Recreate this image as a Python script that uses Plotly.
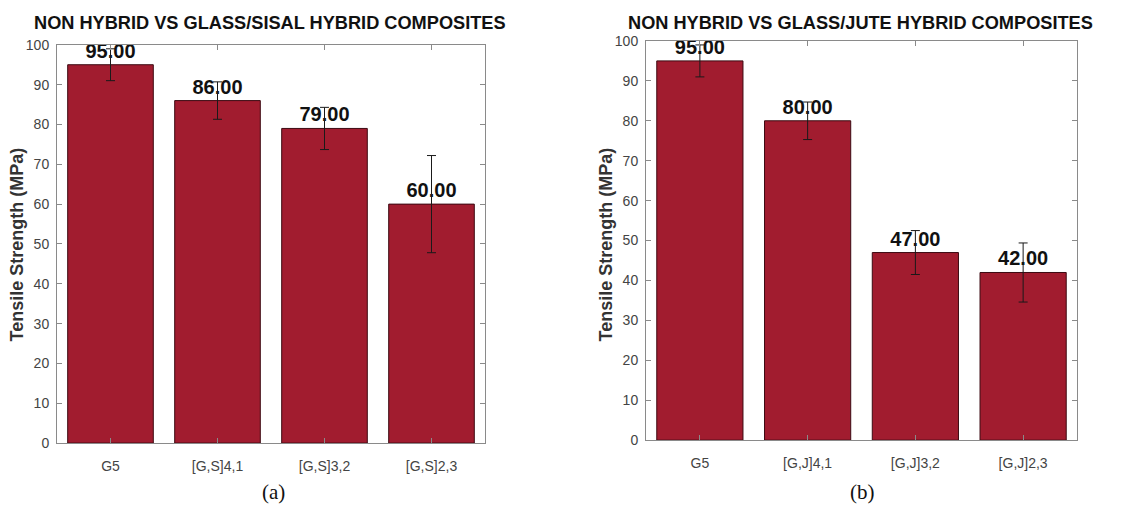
import plotly.graph_objects as go

# Tensile strength of non-hybrid vs hybrid laminates
sisal_labels = ["G5", "[G,S]4,1", "[G,S]3,2", "[G,S]2,3"]
sisal_strength = [95.0, 86.0, 79.0, 60.0]
sisal_error = [4.0, 4.7, 5.3, 12.2]

jute_labels = ["G5", "[G,J]4,1", "[G,J]3,2", "[G,J]2,3"]
jute_strength = [95.0, 80.0, 47.0, 42.0]
jute_error = [4.0, 4.7, 5.5, 7.4]

y_ticks = list(range(0, 101, 10))

BAR_COLOR = "#A11C2F"
EDGE_COLOR = "#3c0a12"
AXIS_COLOR = "#8a8a8a"
TICK_TEXT = "#444444"
FONT = "Liberation Sans, Arial, sans-serif"

W, H = 1147, 516


def bar_trace(labels, values, errors, xa, ya):
    return go.Bar(
        x=labels,
        y=values,
        xaxis=xa,
        yaxis=ya,
        width=0.8,
        marker=dict(color=BAR_COLOR, line=dict(color=EDGE_COLOR, width=1)),
        error_y=dict(type="data", array=errors, visible=True,
                     color="#1a1a1a", thickness=1, width=4.5),
        texttemplate="%{y:.2f}",
        textposition="outside",
        constraintext="none",
        cliponaxis=False,
        textfont=dict(family=FONT, size=20, color="#111111", weight="bold"),
        showlegend=False,
    )


fig = go.Figure()
fig.add_trace(bar_trace(sisal_labels, sisal_strength, sisal_error, "x", "y"))
fig.add_trace(bar_trace(jute_labels, jute_strength, jute_error, "x2", "y2"))

x_common = dict(
    type="category",
    range=[-0.5, 3.5],
    showline=True, linecolor=AXIS_COLOR, linewidth=1, mirror="allticks",
    ticks="inside", ticklen=5, tickcolor=AXIS_COLOR,
    tickfont=dict(family=FONT, size=14, color=TICK_TEXT),
    ticklabelstandoff=10,
    showgrid=False, zeroline=False, fixedrange=True,
)
y_common = dict(
    range=[0, 100],
    tickvals=y_ticks,
    showline=True, linecolor=AXIS_COLOR, linewidth=1, mirror="allticks",
    ticks="inside", ticklen=5, tickcolor=AXIS_COLOR,
    tickfont=dict(family=FONT, size=14, color=TICK_TEXT),
    ticklabelstandoff=4,
    showgrid=False, zeroline=False, fixedrange=True,
)

fig.update_layout(
    width=W, height=H,
    margin=dict(l=0, r=0, t=0, b=0),
    paper_bgcolor="white", plot_bgcolor="white",
    bargap=0.2,
    xaxis=dict(domain=[57 / W, 485 / W], anchor="y", **x_common),
    yaxis=dict(domain=[1 - 449 / H, 1 - 38 / H], anchor="x", **y_common),
    xaxis2=dict(domain=[646 / W, 1077 / W], anchor="y2", **x_common),
    yaxis2=dict(domain=[1 - 446 / H, 1 - 34 / H], anchor="x2", **y_common),
)

panel_text = [
    ("NON HYBRID VS GLASS/SISAL HYBRID COMPOSITES", 270, 17, "(a)", 273),
    ("NON HYBRID VS GLASS/JUTE HYBRID COMPOSITES", 860, 606, "(b)", 863),
]
for title, tx, ylab_x, cap, cx in panel_text:
    fig.add_annotation(
        text=title, x=tx / W, y=1 - 15 / H, xref="paper", yref="paper",
        xanchor="center", yanchor="middle", showarrow=False, borderpad=0,
        font=dict(family=FONT, size=18.2, color="#111111", weight="bold"),
    )
    fig.add_annotation(
        text="Tensile Strength (MPa)", x=ylab_x / W, y=1 - 244 / H,
        xref="paper", yref="paper", xanchor="center", yanchor="middle",
        textangle=-90, showarrow=False,
        font=dict(family=FONT, size=18, color="#333333", weight="bold"),
    )
    fig.add_annotation(
        text=cap, x=cx / W, y=1 - 500 / H, xref="paper", yref="paper",
        xanchor="center", yanchor="middle", showarrow=False,
        font=dict(family="Liberation Serif, Times New Roman, serif", size=21, color="#111111"),
    )

fig.write_html("out.html")
